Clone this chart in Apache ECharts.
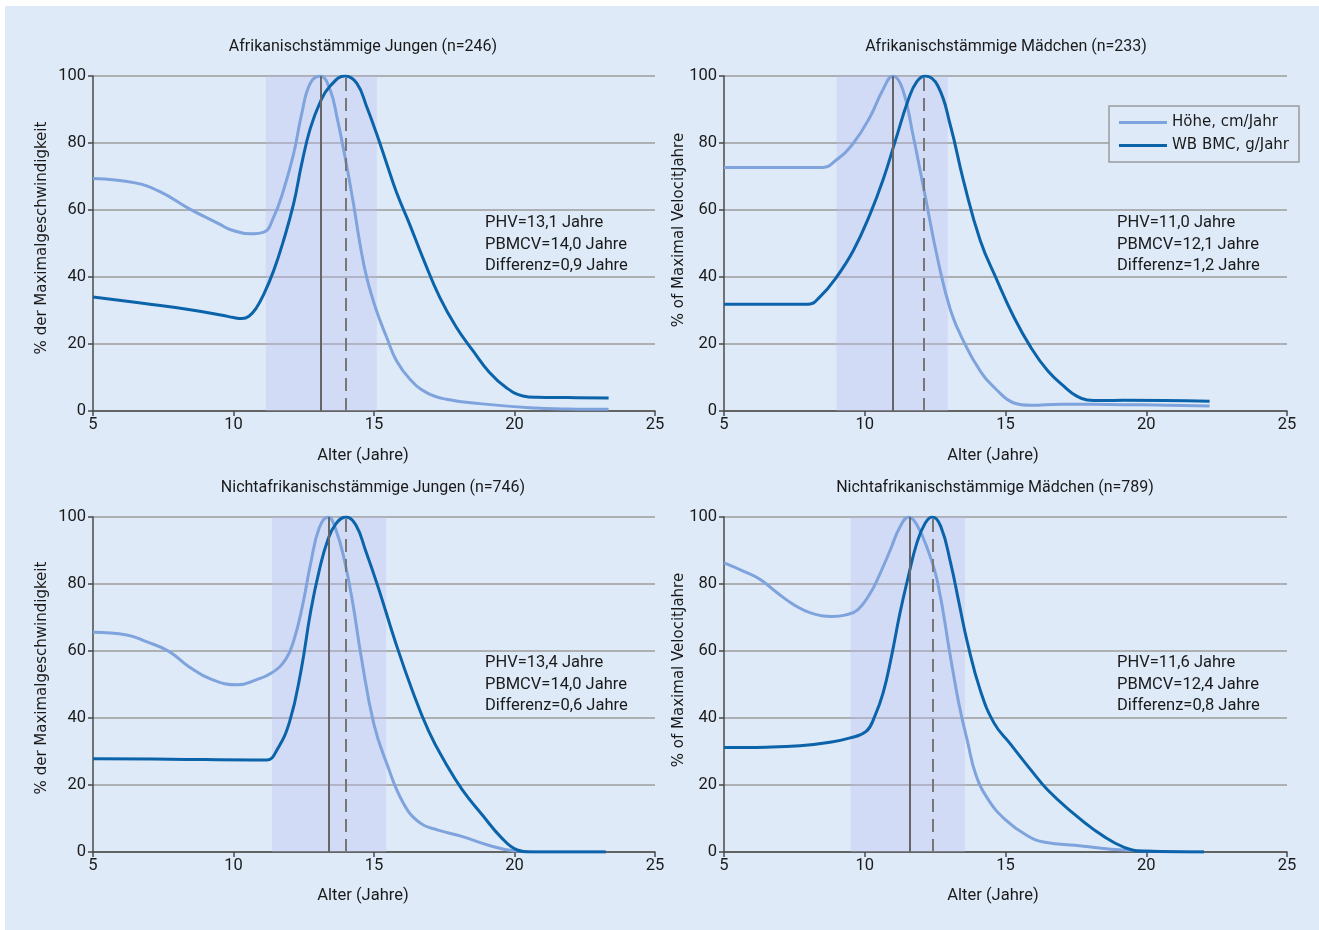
<!DOCTYPE html>
<html>
<head>
<meta charset="utf-8">
<script src="https://cdn.jsdelivr.net/npm/echarts@6/dist/echarts.min.js"></script>
<style>
html,body{margin:0;padding:0;background:#ffffff;width:1319px;height:930px;overflow:hidden;}
#c{position:absolute;left:5px;top:6px;width:1314px;height:924px;}
</style>
</head>
<body>
<div id="c"></div>
<script>
// ---- Data ----
const panelTitles = [
  'Afrikanischstämmige Jungen (n=246)',
  'Afrikanischstämmige Mädchen (n=233)',
  'Nichtafrikanischstämmige Jungen (n=746)',
  'Nichtafrikanischstämmige Mädchen (n=789)'
];
const yNames = ['% der Maximalgeschwindigkeit', '% of Maximal VelocitJahre', '% der Maximalgeschwindigkeit', '% of Maximal VelocitJahre'];
const xName = 'Alter (Jahre)';
const seriesNames = ['Höhe, cm/Jahr', 'WB BMC, g/Jahr'];
const xTicks = [5, 10, 15, 20, 25];
const yTicks = [0, 20, 40, 60, 80, 100];

const annotations = [
  ['PHV=13,1 Jahre', 'PBMCV=14,0 Jahre', 'Differenz=0,9 Jahre'],
  ['PHV=11,0 Jahre', 'PBMCV=12,1 Jahre', 'Differenz=1,2 Jahre'],
  ['PHV=13,4 Jahre', 'PBMCV=14,0 Jahre', 'Differenz=0,6 Jahre'],
  ['PHV=11,6 Jahre', 'PBMCV=12,4 Jahre', 'Differenz=0,8 Jahre']
];
const phv = [13.1, 11.0, 13.4, 11.6];
const pbmcv = [14.0, 12.1, 14.0, 12.4];
const bands = [[11.15, 15.1], [9.0, 12.95], [11.37, 15.43], [9.5, 13.56]];

const heightP1 = [[5,69.4],[6.5,68.1],[7.4,65.4],[8.4,60.5],[9.5,55.8],[9.9,54.1],[10.6,52.9],[11.08,53.4],[11.43,57.9],[11.78,65.9],[12.14,76.8],[12.43,88.8],[12.73,97.8],[13.09,100],[13.44,95.8],[13.68,87.8],[13.97,75.8],[14.27,61.9],[14.5,49.9],[14.74,39.9],[15.09,29.9],[15.45,22],[15.8,15],[16.28,9.5],[16.87,5.5],[17.58,3.5],[18.76,2.2],[20.53,1],[21.9,0.6],[23.35,0.5]];
const bmcP1 = [[5,34],[6.9,32],[8.4,30.3],[9.6,28.6],[10.0,27.9],[10.3,27.6],[10.55,28.3],[10.8,30.6],[11.08,34.9],[11.43,41.9],[11.78,50.9],[12.14,61.9],[12.43,73.9],[12.73,84.3],[13.09,92.3],[13.44,97.0],[13.97,100],[14.39,97.8],[14.74,90.8],[15.09,82.8],[15.45,73.9],[15.8,65.3],[16.28,55.5],[16.75,45.5],[17.34,33.9],[17.93,25],[18.52,18],[19.11,11.5],[19.7,7],[20.3,4.5],[20.8,4.1],[21.9,4],[23.35,3.9]];

const heightP2 = [[5,72.7],[8.5,72.7],[9.0,75],[9.6,80],[10.2,88],[10.65,96],[11.0,100],[11.35,96],[11.7,83],[12.15,64],[12.6,45],[13.05,30],[13.5,21],[14.1,12],[14.7,6.2],[15.3,2.4],[15.9,1.7],[16.95,2],[19.2,1.9],[22.25,1.5]];
const bmcP2 = [[5,31.9],[8.0,31.9],[8.4,34],[9.0,40],[9.6,48],[10.2,59],[10.65,69],[11.1,81],[11.55,93],[11.85,98.3],[12.15,100],[12.6,97],[13.05,85],[13.5,69],[14.1,51],[14.7,39],[15.3,28],[15.9,19],[16.5,12],[17.1,7.2],[17.5,4.6],[17.9,3.3],[18.4,3.1],[19.2,3.2],[22.25,2.9]];

const heightP3 = [[5,65.6],[6.2,64.8],[6.9,62.8],[7.7,59.9],[8.4,55.4],[9.2,51.6],[10.15,49.9],[10.8,51.4],[11.35,53.4],[11.85,57.4],[12.15,63.3],[12.45,73.3],[12.75,86.3],[13.05,96.7],[13.37,100],[13.65,96],[13.95,87],[14.25,74],[14.55,58],[15.0,38],[15.45,26.5],[16.05,14.5],[16.65,8.6],[17.25,6.6],[18.15,4.6],[19.05,2.1],[19.95,0.4],[21.15,0],[23.25,0]];
const bmcP3 = [[5,27.8],[7.7,27.7],[10.7,27.5],[11.2,27.5],[11.55,30.5],[12.0,39],[12.4,54],[12.75,72],[13.05,84],[13.35,93],[13.65,98],[14.0,100],[14.35,97.7],[14.7,90],[15.15,79],[15.75,63],[16.35,48.5],[16.95,36],[17.55,26.5],[18.15,18.5],[18.9,10.6],[19.5,4.6],[20.1,0.6],[20.55,0],[23.25,0]];

const heightP4 = [[5,86.3],[5.7,83.8],[6.3,81.3],[6.9,77.3],[7.5,73.7],[8.1,71.3],[8.85,70.3],[9.3,70.7],[9.75,72.3],[10.2,77.3],[10.5,82.3],[10.9,90],[11.25,97],[11.56,100],[11.85,97.7],[12.25,90],[12.6,80],[13.05,58],[13.35,44],[13.65,33],[13.95,23],[14.4,15.5],[15.0,9.6],[15.75,5],[16.35,3],[17.7,1.8],[19.2,0.6],[22.05,0]];
const bmcP4 = [[5,31.2],[6.5,31.3],[7.7,31.7],[8.7,32.7],[9.45,34],[10.05,36],[10.35,40.4],[10.65,47.4],[10.95,58.4],[11.25,71.3],[11.55,82.3],[11.85,92.2],[12.15,98.2],[12.4,100],[12.7,97.2],[13.05,86.3],[13.35,74.3],[13.65,62.4],[14.1,48.4],[14.6,38.4],[15.15,32.5],[15.9,24.5],[16.5,18.5],[17.4,11.6],[18.15,6.6],[18.9,2.6],[19.5,0.6],[19.95,0.2],[22.05,0]];

const heightData = [heightP1, heightP2, heightP3, heightP4];
const bmcData = [bmcP1, bmcP2, bmcP3, bmcP4];

// ---- Layout / style ----
const BG = '#deeaf8';
const LIGHT = '#7fa3dc';
const DARK = '#0b63aa';
const BAND = 'rgba(188,186,238,0.32)';
const GRIDC = '#9c9c9c';
const AXISC = '#4a4a4a';
const NARROW = 'Roboto, "Liberation Sans", sans-serif';
const WIDE = '"DejaVu Sans", Verdana, sans-serif';

const grids = [
  {left: 88, top: 70, width: 562, height: 335},
  {left: 719, top: 70, width: 563, height: 335},
  {left: 88, top: 511, width: 562, height: 335},
  {left: 719, top: 511, width: 563, height: 335}
];
const titlePos = [[358, 41], [1001, 41], [368, 482], [990, 482]];
const xNamePos = [[358, 450], [988, 450], [358, 890], [988, 890]];
const yNamePos = [[37, 232], [674, 224], [37, 672], [674, 664]];
const annPos = [[480, 217], [1112, 217], [480, 657], [1112, 657]];

const xAxes = [], yAxes = [], series = [], graphics = [];
for (let i = 0; i < 4; i++) {
  xAxes.push({
    type: 'value', gridIndex: i, min: xTicks[0], max: xTicks[xTicks.length - 1], interval: 5,
    axisLine: {show: true, lineStyle: {color: AXISC, width: 1.5}},
    axisTick: {show: true, length: 5, lineStyle: {color: AXISC, width: 1.5}},
    axisLabel: {color: '#1a1a1a', fontFamily: NARROW, fontSize: 16.5, margin: 5},
    splitLine: {show: false}
  });
  yAxes.push({
    type: 'value', gridIndex: i, min: yTicks[0], max: yTicks[yTicks.length - 1], interval: 20,
    axisLine: {show: true, lineStyle: {color: AXISC, width: 1.5}},
    axisTick: {show: true, length: 5, lineStyle: {color: AXISC, width: 1.5}},
    axisLabel: {color: '#1a1a1a', fontFamily: NARROW, fontSize: 16.5, margin: 7},
    splitLine: {show: true, lineStyle: {color: GRIDC, width: 1.5}}
  });
  series.push({
    name: seriesNames[0], type: 'line', xAxisIndex: i, yAxisIndex: i,
    data: heightData[i], smooth: 0.45, symbol: 'none',
    lineStyle: {color: LIGHT, width: 3}, itemStyle: {color: LIGHT}, z: 3,
    markArea: {silent: true, itemStyle: {color: BAND}, data: [[{xAxis: bands[i][0]}, {xAxis: bands[i][1]}]]},
    markLine: {
      silent: true, symbol: 'none', label: {show: false},
      data: [
        {xAxis: phv[i], lineStyle: {color: '#666666', width: 2, type: 'solid'}},
        {xAxis: pbmcv[i], lineStyle: {color: '#777777', width: 2, type: [13, 7]}}
      ]
    }
  });
  series.push({
    name: seriesNames[1], type: 'line', xAxisIndex: i, yAxisIndex: i,
    data: bmcData[i], smooth: 0.45, symbol: 'none',
    lineStyle: {color: DARK, width: 3}, itemStyle: {color: DARK}, z: 4
  });
  graphics.push({
    type: 'text', x: titlePos[i][0], y: titlePos[i][1],
    style: {text: panelTitles[i], fill: '#1a1a1a', font: '16px ' + NARROW, textAlign: 'center', textVerticalAlign: 'middle'}
  });
  graphics.push({
    type: 'text', x: xNamePos[i][0], y: xNamePos[i][1],
    style: {text: xName, fill: '#1a1a1a', font: '16.5px ' + NARROW, textAlign: 'center', textVerticalAlign: 'middle'}
  });
  graphics.push({
    type: 'text', x: yNamePos[i][0], y: yNamePos[i][1], rotation: Math.PI / 2,
    style: {text: yNames[i], fill: '#1a1a1a', font: '15px ' + WIDE, textAlign: 'center', textVerticalAlign: 'middle'}
  });
  annotations[i].forEach((t, k) => {
    graphics.push({
      type: 'text', x: annPos[i][0], y: annPos[i][1] + k * 21.5,
      style: {text: t, fill: '#1a1a1a', font: '16.5px ' + NARROW, textAlign: 'left', textVerticalAlign: 'middle'}
    });
  });
}

const chart = echarts.init(document.getElementById('c'));
chart.setOption({
  backgroundColor: BG,
  animation: false,
  grid: grids,
  xAxis: xAxes,
  yAxis: yAxes,
  series: series,
  legend: {
    data: seriesNames, orient: 'vertical', left: 1104, top: 100,
    backgroundColor: BG, borderColor: '#9a9a9a', borderWidth: 1.5, borderRadius: 0,
    padding: [9, 10, 9, 10], itemGap: 8, itemWidth: 48, itemHeight: 3, icon: 'rect',
    textStyle: {fontFamily: WIDE, fontSize: 15, color: '#1a1a1a'}, selectedMode: false
  },
  graphic: graphics
});
</script>
</body>
</html>
